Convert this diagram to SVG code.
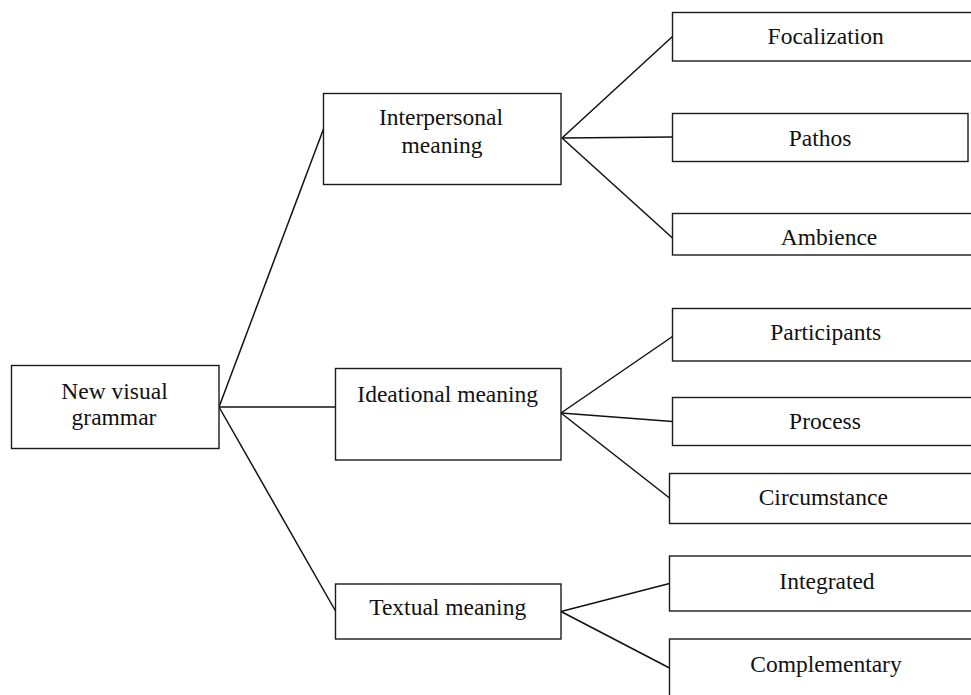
<svg xmlns="http://www.w3.org/2000/svg" width="971" height="695" viewBox="0 0 971 695">
<style>
rect{fill:#fff;stroke:#1a1a1a;stroke-width:1.4}
text{font-family:"Liberation Serif","Times New Roman",serif;font-size:23.5px;fill:#111;text-anchor:middle}
#connectors line{stroke:#111;stroke-width:1.5}
</style>
<rect x="0" y="0" width="971" height="695" style="fill:#fff;stroke:none"/>
<g id="connectors">
<line x1="219" y1="407" x2="323.5" y2="129"/>
<line x1="219" y1="407" x2="335.5" y2="407"/>
<line x1="219" y1="407" x2="335.5" y2="611"/>
<line x1="562" y1="138" x2="672.5" y2="36.5"/>
<line x1="562" y1="138" x2="672.5" y2="137"/>
<line x1="562" y1="138" x2="672.5" y2="238"/>
<line x1="561" y1="413" x2="672.5" y2="336.5"/>
<line x1="561" y1="413" x2="672.5" y2="421.5"/>
<line x1="561" y1="413" x2="669.5" y2="498"/>
<line x1="561" y1="611.5" x2="669.5" y2="583.5"/>
<line x1="561" y1="611.5" x2="669.5" y2="668"/>
</g>
<g id="new-visual-grammar"><rect x="11.5" y="365.5" width="207.5" height="83"/><text x="114.5" y="399">New visual</text><text x="114" y="425">grammar</text></g>
<g id="interpersonal"><rect x="323.5" y="93.5" width="237.5" height="91"/><text x="441" y="125">Interpersonal</text><text x="442" y="152.5">meaning</text></g>
<g id="ideational"><rect x="335.5" y="368.5" width="225.5" height="91.5"/><text x="447.7" y="401.5">Ideational meaning</text></g>
<g id="textual"><rect x="335.5" y="584" width="225.5" height="55"/><text x="447.7" y="615">Textual meaning</text></g>
<g id="focalization"><rect x="672.5" y="12.5" width="310" height="48.5"/><text x="825.7" y="44.3">Focalization</text></g>
<g id="pathos"><rect x="672.5" y="113.5" width="295.5" height="48"/><text x="820" y="146">Pathos</text></g>
<g id="ambience"><rect x="672.5" y="213.5" width="310" height="41.5"/><text x="829" y="245">Ambience</text></g>
<g id="participants"><rect x="672.5" y="308.5" width="310" height="52.5"/><text x="825.7" y="340">Participants</text></g>
<g id="process"><rect x="672.5" y="397.5" width="310" height="48"/><text x="825" y="429.3">Process</text></g>
<g id="circumstance"><rect x="669.5" y="473.5" width="310" height="50"/><text x="823.3" y="505">Circumstance</text></g>
<g id="integrated"><rect x="669.5" y="556" width="310" height="55"/><text x="827" y="589.3">Integrated</text></g>
<g id="complementary"><rect x="669.5" y="639" width="310" height="70"/><text x="826" y="671.7">Complementary</text></g>
</svg>
